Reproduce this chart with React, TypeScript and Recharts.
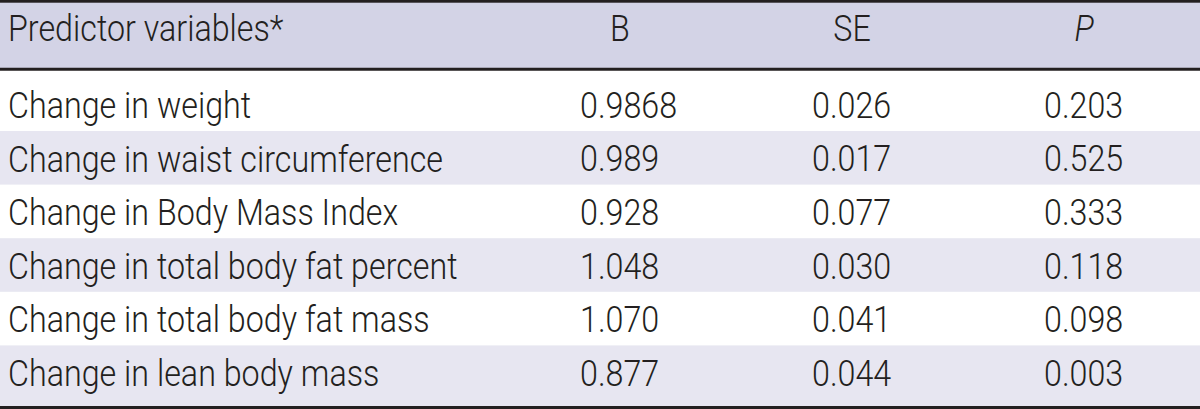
import React from "react";
import { ComposedChart, Bar, Scatter, XAxis, YAxis } from "recharts";

const predictors = [
  "Change in weight",
  "Change in waist circumference",
  "Change in Body Mass Index",
  "Change in total body fat percent",
  "Change in total body fat mass",
  "Change in lean body mass",
];
const columns = ["B", "SE", "P"];
const bValues = [0.9868, 0.989, 0.928, 1.048, 1.07, 0.877];
const seValues = [0.026, 0.017, 0.077, 0.03, 0.041, 0.044];
const pValues = [0.203, 0.525, 0.333, 0.118, 0.098, 0.003];
const headerLabel = "Predictor variables*";

const INK = "#231f20";
const HEADER_BG = "#d3d3e6";
const STRIPE_BG = "#e7e6f1";
const FONT = "Roboto, 'Liberation Sans', Arial, sans-serif";
const FONT_SIZE = 37.5;
const SQUEEZE = 0.86; // condensed look
const CAP_SHIFT = 13.5;

// keep at least 3 decimals, like the printed table
const fmt = (v: number) => {
  const d = (String(v).split(".")[1] || "").length;
  return v.toFixed(Math.max(3, d));
};

const rows = predictors.map((name) => ({ name }));
const cells = predictors.flatMap((name, i) => [
  { name, column: "B", text: fmt(bValues[i]) },
  { name, column: "SE", text: fmt(seValues[i]) },
  { name, column: "P", text: fmt(pValues[i]) },
]);

function NarrowText({ x, y, anchor = "start", italic = false, children }: any) {
  return (
    <text
      transform={`translate(${x} ${y}) scale(${SQUEEZE} 1)`}
      textAnchor={anchor}
      fontFamily={FONT}
      fontSize={FONT_SIZE}
      fontWeight={300}
      fontStyle={italic ? "italic" : "normal"}
      fill={INK}
    >
      {children}
    </text>
  );
}

function HeaderBand() {
  return (
    <g>
      <rect x={0} y={0} width={1200} height={68} fill={HEADER_BG} />
      <rect x={0} y={0} width={1200} height={2.7} fill={INK} />
      <NarrowText x={8} y={41}>
        {headerLabel}
      </NarrowText>
    </g>
  );
}

function RowStripe(props: any) {
  const { x, y, width, height, payload } = props;
  const idx = predictors.indexOf(payload.name);
  const last = idx === predictors.length - 1;
  return (
    <g>
      <rect
        x={x}
        y={y}
        width={width}
        height={last ? height + 7 : height}
        fill={idx % 2 ? STRIPE_BG : "#ffffff"}
      />
      <NarrowText x={x + 8} y={y + height / 2 + CAP_SHIFT}>
        {payload.name}
      </NarrowText>
    </g>
  );
}

function CellText(props: any) {
  const { cx, cy, payload } = props;
  return (
    <NarrowText x={cx - 40} y={cy + CAP_SHIFT}>
      {payload.text}
    </NarrowText>
  );
}

function HeaderTick(props: any) {
  const { x, payload } = props;
  return (
    <NarrowText x={x} y={41} anchor="middle" italic={payload.value === "P"}>
      {payload.value}
    </NarrowText>
  );
}

export default function App() {
  return (
    <div style={{ width: 1200, height: 409, background: "#fff" }}>
      <style>{"body{margin:0}"}</style>
      <ComposedChart
        width={1200}
        height={409}
        data={rows}
        layout="vertical"
        margin={{ top: 0, right: 0, bottom: 0, left: 0 }}
        barCategoryGap={0}
      >
        <HeaderBand />
        <XAxis
          xAxisId="cols"
          type="category"
          dataKey="column"
          orientation="top"
          allowDuplicatedCategory={false}
          ticks={columns}
          height={69.2}
          padding={{ left: 504, right: 0 }}
          axisLine={{ stroke: INK, strokeWidth: 3 }}
          tickLine={false}
          tick={<HeaderTick />}
          interval={0}
        />
        <XAxis
          xAxisId="span"
          type="number"
          domain={[0, 1]}
          orientation="bottom"
          height={1.5}
          axisLine={{ stroke: INK, strokeWidth: 3 }}
          tick={false}
          tickLine={false}
        />
        <YAxis
          type="category"
          dataKey="name"
          hide
          width={0}
          allowDuplicatedCategory={false}
          padding={{ top: 8.2, bottom: 8.5 }}
        />
        <Bar
          xAxisId="span"
          dataKey={() => 1}
          shape={<RowStripe />}
          isAnimationActive={false}
        />
        <Scatter
          xAxisId="cols"
          data={cells}
          shape={<CellText />}
          isAnimationActive={false}
        />
      </ComposedChart>
    </div>
  );
}
